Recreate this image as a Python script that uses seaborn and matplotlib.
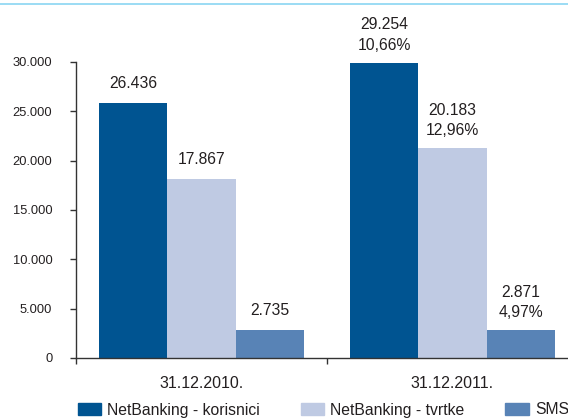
import pandas as pd
import seaborn as sns
import matplotlib.pyplot as plt
from matplotlib.lines import Line2D

# data
dates = ['31.12.2010.', '31.12.2011.']
services = ['NetBanking - korisnici', 'NetBanking - tvrtke', 'SMS']
# bar heights as drawn in the picture
heights_2010 = [25800, 18100, 2830]
heights_2011 = [29900, 21250, 2830]
# numbers printed above the bars
labels_2010 = [26436, 17867, 2735]
labels_2011 = [29254, 20183, 2871]
growth_2011 = ['10,66%', '12,96%', '4,97%']

colors = ['#005491', '#bfcae3', '#5883b6']
text_col = '#231f20'

df = pd.DataFrame({
    'date': [dates[0]] * 3 + [dates[1]] * 3,
    'service': services * 2,
    'value': heights_2010 + heights_2011,
})

sns.set_theme(style='white')
plt.rcParams['font.family'] = ['Liberation Sans', 'DejaVu Sans']

fig = plt.figure(figsize=(5.68, 4.18), dpi=100)
ax = fig.add_axes([76 / 568, 60 / 418, 502 / 568, 296 / 418])

sns.barplot(data=df, x='date', y='value', hue='service', hue_order=services,
            palette=colors, width=0.815, gap=0, saturation=1, linewidth=0, ax=ax)
ax.get_legend().remove()

ax.set_xlim(-0.5, 1.5)
ax.set_ylim(0, 30000)
ax.set_xlabel('')
ax.set_ylabel('')

ax.set_yticks(range(0, 30001, 5000))
ax.set_yticklabels(['{:,}'.format(v).replace(',', '.') for v in range(0, 30001, 5000)])
ax.tick_params(axis='y', direction='out', length=4, width=1, color='#333333',
               pad=13, labelsize=9.3, labelcolor=text_col, left=True)
ax.set_xticks([0, 1])
ax.set_xticklabels(dates)
ax.set_xticks([-0.5, 0.5, 1.5], minor=True)
ax.tick_params(axis='x', which='major', length=0, pad=13, labelsize=11.5, labelcolor=text_col)
ax.tick_params(axis='x', which='minor', direction='out', length=4, width=1,
               color='#333333', bottom=True)

for s in ['top', 'right']:
    ax.spines[s].set_visible(False)
for s in ['left', 'bottom']:
    ax.spines[s].set_color('#333333')
    ax.spines[s].set_linewidth(1)
ax.spines['bottom'].set_clip_on(False)

# value labels (px above bar top, converted to points)
for j, cont in enumerate(ax.containers):
    for i, bar in enumerate(cont):
        x = bar.get_x() + bar.get_width() / 2
        top = bar.get_height()
        if i == 0:
            lines = ['{:,}'.format(labels_2010[j]).replace(',', '.')]
            base = 20
        else:
            lines = ['{:,}'.format(labels_2011[j]).replace(',', '.'), growth_2011[j]]
            base = 17.5
        for k, txt in enumerate(reversed(lines)):
            ax.annotate(txt, (x, top), xytext=(0, (base + 20.5 * k) * 0.72),
                        textcoords='offset points', ha='center', va='center',
                        fontsize=11.3, color=text_col, annotation_clip=False)

# legend
handles = [plt.Rectangle((0, 0), 1, 1, color=c) for c in colors]
fig.legend(handles, services, loc='center left', bbox_to_anchor=(64 / 568, 1 - 410 / 418),
           ncol=3, frameon=False, fontsize=11.3, handlelength=1.47, handleheight=0.83,
           handletextpad=0.4, columnspacing=2.6, labelcolor=text_col)

# thin line at the top
fig.add_artist(Line2D([0, 1], [1 - 4 / 418, 1 - 4 / 418], color='#8ad6f2', lw=1.2,
                      transform=fig.transFigure))

fig.savefig('out.png', dpi=100)
